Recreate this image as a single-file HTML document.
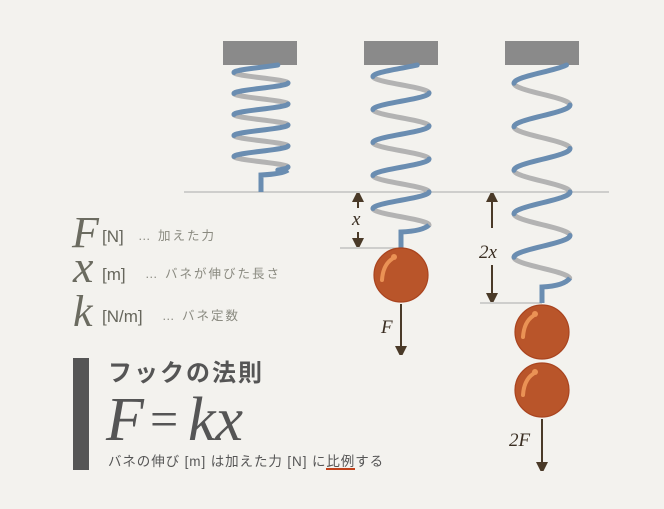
<!DOCTYPE html>
<html><head><meta charset="utf-8"><style>
html,body{margin:0;padding:0;background:#f3f2ee;}
svg{display:block;}
.ser{font-family:"Liberation Serif",serif;font-style:italic;}
.jp{font-family:"Liberation Sans","Noto Sans CJK JP",sans-serif;}
</style></head><body>
<svg id="s" width="664" height="509" viewBox="0 0 664 509" xmlns="http://www.w3.org/2000/svg">
<rect width="664" height="509" fill="#f3f2ee"/>
<rect x="223" y="41" width="74" height="24" fill="#8a8a8a"/>
<rect x="364" y="41" width="74" height="24" fill="#8a8a8a"/>
<rect x="505" y="41" width="74" height="24" fill="#8a8a8a"/>
<line x1="184" y1="192" x2="609" y2="192" stroke="#aaa" stroke-width="1"/>
<line x1="340" y1="248" x2="401" y2="248" stroke="#aaa" stroke-width="1"/>
<line x1="480" y1="303" x2="542" y2="303" stroke="#aaa" stroke-width="1"/>
<g id="springs"></g>
<defs>
<marker id="ah" markerWidth="9" markerHeight="12" refX="4" refY="6" orient="auto-start-reverse" markerUnits="userSpaceOnUse"><path d="M0,0 L12,6 L0,12 Z" fill="#4a3a28"/></marker>
</defs>
<g stroke="#4a3a28" stroke-width="2" fill="none">
<line x1="358" y1="198" x2="358" y2="208" marker-start="url(#ah)"/>
<line x1="358" y1="232" x2="358" y2="242" marker-end="url(#ah)"/>
<line x1="492" y1="198" x2="492" y2="228" marker-start="url(#ah)"/>
<line x1="492" y1="265" x2="492" y2="297" marker-end="url(#ah)"/>
<line x1="401" y1="304" x2="401" y2="350" marker-end="url(#ah)"/>
<line x1="542" y1="419" x2="542" y2="466" marker-end="url(#ah)"/>
</g>
<g class="ser" fill="#3a2e22" font-size="19">
<text x="352" y="225">x</text>
<text x="479" y="258">2x</text>
<text x="381" y="333">F</text>
<text x="509" y="446">2F</text>
</g>
<g fill="#b9552a" stroke="#a9441f" stroke-width="1.2">
<circle cx="401" cy="275" r="27"/>
<circle cx="542" cy="332" r="27"/>
<circle cx="542" cy="390" r="27"/>
</g>
<g fill="none" stroke="#ea9255" stroke-width="4" stroke-linecap="round">
<path d="M382,280 Q383,265 392,259"/>
<path d="M523,337 Q524,322 533,316"/>
<path d="M523,395 Q524,380 533,374"/>
</g>
<g fill="#ea9255"><circle cx="394" cy="257" r="3"/><circle cx="535" cy="314" r="3"/><circle cx="535" cy="372" r="3"/></g>

<g fill="#6b6b60">
<text class="ser" x="72" y="247" font-size="44">F</text>
<text class="ser" x="73" y="282" font-size="46">x</text>
<text class="ser" x="73" y="326" font-size="44">k</text>
</g>
<g class="jp" fill="#66665c" font-size="17">
<text x="102" y="242">[N]</text>
<text x="102" y="280">[m]</text>
<text x="102" y="322">[N/m]</text>
</g>
<g class="jp" fill="#8a8a80" font-size="12.5" letter-spacing="2">
<text x="138" y="240">… 加えた力</text>
<text x="145" y="278">… バネが伸びた長さ</text>
<text x="162" y="320">… バネ定数</text>
</g>
<rect x="73" y="358" width="16" height="112" fill="#555"/>
<text class="jp" x="108" y="381" font-size="24" font-weight="bold" fill="#555" letter-spacing="2">フックの法則</text>
<text class="ser" x="106" y="440" font-size="62" fill="#555">F</text>
<text x="150" y="436" font-size="50" font-family="Liberation Serif,serif" fill="#555">=</text>
<text class="ser" x="188" y="440" font-size="62" fill="#555">kx</text>
<text class="jp" x="108" y="466" font-size="13.5" fill="#555" letter-spacing="0.9">バネの伸び [m] は加えた力 [N] に比例する</text>
<rect x="326" y="468" width="29" height="2" fill="#c0401a"/>
</svg>
<script>
(function(){
var g=document.getElementById('springs');var NS='http://www.w3.org/2000/svg';
function spring(c,A,P,y0,yStart,yEnd,stemTop,stemBot){
 var segs=[];var y=yStart;
 while(y<yEnd){
  var k=Math.floor((y-y0)/(P/2)+1e-9);var yn=Math.min(y0+(k+1)*P/2,yEnd);
  var pts=[];for(var t=0;t<=20;t++){var yy=y+(yn-y)*t/20;pts.push((c+A*Math.cos(2*Math.PI*(yy-y0)/P)).toFixed(2)+','+yy.toFixed(2));}
  segs.push({d:'M'+pts.join(' L'),blue:(k%2===0)});y=yn;
 }
 [false,true].forEach(function(b){segs.forEach(function(s){if(s.blue!==b)return;var p=document.createElementNS(NS,'path');p.setAttribute('d',s.d);p.setAttribute('fill','none');p.setAttribute('stroke',b?'#6a8db1':'#b3b3b3');p.setAttribute('stroke-width','5');p.setAttribute('stroke-linecap','round');g.appendChild(p);});});
 var p=document.createElementNS(NS,'path');
 p.setAttribute('d','M'+(c+A)+','+yEnd+' Q'+(c+A-6)+','+(stemTop-1)+' '+c+','+stemTop+' L'+c+','+stemBot);
 p.setAttribute('fill','none');p.setAttribute('stroke','#6a8db1');p.setAttribute('stroke-width','5');g.appendChild(p);
}
spring(261,27,21,62,65,170,175,192);
spring(401,28,33,60,65,225,232,248);
spring(542,28,43.5,61.5,65,278,287,303);
})();
</script>
</body></html>
